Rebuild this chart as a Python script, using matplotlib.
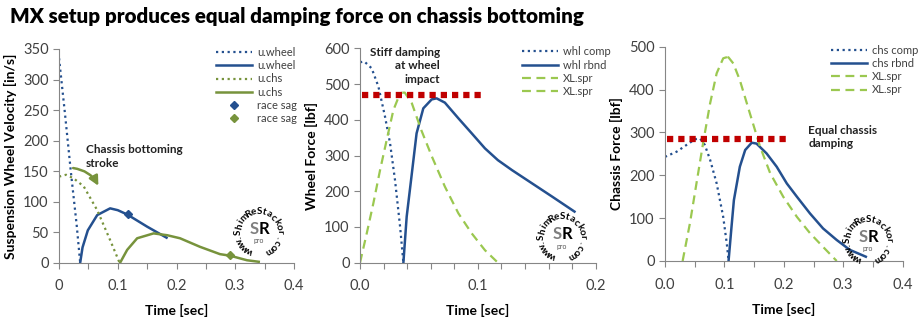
import numpy as np
import matplotlib
matplotlib.use("Agg")
import matplotlib.pyplot as plt

# =================== Data ===================
# Panel 1: suspension wheel velocity [in/s] vs time [sec]
t_uwheel_comp = [0.0, 0.01, 0.02, 0.03, 0.036]
v_uwheel_comp = [335, 245, 150, 62, 0]
t_uwheel_rbnd = [0.036, 0.040, 0.049, 0.065, 0.087, 0.100, 0.116, 0.150, 0.183]
v_uwheel_rbnd = [0, 25, 53, 78, 89, 86, 79, 59, 41]
t_uchs_comp = [0.0, 0.012, 0.025, 0.042, 0.065, 0.087, 0.103]
v_uchs_comp = [141, 144, 138, 125, 86, 37, 0]
t_uchs_rbnd = [0.104, 0.116, 0.133, 0.161, 0.184, 0.206, 0.240, 0.274, 0.291, 0.320, 0.340]
v_uchs_rbnd = [0, 21, 40, 48, 45, 40, 26, 14, 11.5, 4, 1.5]
sag_wheel = (0.117, 80)
sag_chs = (0.291, 12)

# Panel 2: wheel force [lbf]
t_whl_comp = [0.0, 0.0037, 0.0099, 0.0156, 0.0212, 0.0255, 0.0297, 0.034, 0.0368]
f_whl_comp = [561, 563, 544, 493, 409, 334, 231, 101, 0]
t_whl_rbnd = [0.0368, 0.0396, 0.0433, 0.048, 0.0537, 0.0608, 0.065, 0.072, 0.0835,
              0.0948, 0.106, 0.117, 0.129, 0.146, 0.163, 0.182]
f_whl_rbnd = [0, 129, 231, 362, 432, 457, 460, 448, 404, 362, 320, 287, 259, 222, 185, 143]
t_whl_spr_comp = [0.0, 0.0057, 0.0113, 0.017, 0.0226, 0.0283, 0.034, 0.036]
f_whl_spr_comp = [0, 82, 166, 259, 343, 427, 474, 476]
t_whl_spr_rbnd = [0.036, 0.038, 0.044, 0.052, 0.061, 0.072, 0.0835, 0.0948, 0.106, 0.117]
f_whl_spr_rbnd = [476, 476, 446, 371, 297, 213, 138, 82, 35, 0]
whl_damp_level = 468
whl_damp_span = (0.002, 0.106)

# Panel 3: chassis force [lbf]
t_chs_comp = [0.0, 0.0196, 0.0365, 0.0505, 0.059, 0.067, 0.076, 0.087, 0.098, 0.104, 0.107]
f_chs_comp = [243, 255, 271, 284, 286, 271, 236, 181, 103, 41, 2]
t_chs_rbnd = [0.107, 0.112, 0.116, 0.126, 0.135, 0.146, 0.154, 0.171, 0.188, 0.205,
              0.222, 0.244, 0.266, 0.289, 0.311, 0.338]
f_chs_rbnd = [0, 80, 142, 220, 259, 276, 274, 251, 220, 181, 150, 111, 76, 49, 26, 10]
t_chs_spr_comp = [0.0297, 0.042, 0.053, 0.065, 0.076, 0.087, 0.098, 0.105]
f_chs_spr_comp = [0, 88, 181, 282, 368, 438, 473, 476]
t_chs_spr_rbnd = [0.105, 0.107, 0.115, 0.126, 0.143, 0.160, 0.177, 0.199, 0.222, 0.244, 0.266, 0.289]
f_chs_spr_rbnd = [476, 475, 461, 422, 344, 267, 205, 150, 103, 65, 33, 0]
chs_damp_level = 285
chs_damp_span = (0.003, 0.210)

# =================== Style ===================
BLUE = '#24508F'
OLIVE = '#77933C'
LGREEN = '#9BC850'
RED = '#C00000'
GREY = '#868686'
TXT = '#404040'
W, H = 921, 326

plt.rcParams['font.family'] = ['Lato', 'DejaVu Sans']

fig = plt.figure(figsize=(9.21, 3.26), dpi=100)
fig.patch.set_facecolor('white')

dot = (0, (1, 1.6))
dash = (0, (4, 2.5))
red_dot = (0, (1, 0.8))


def style_axes(ax, xmax, xstep, xminor, ymax, ystep, xfmt):
    ax.set_xlim(0, xmax)
    ax.set_ylim(0, ymax)
    for s in ['top', 'right']:
        ax.spines[s].set_visible(False)
    for s in ['left', 'bottom']:
        ax.spines[s].set_color(GREY)
        ax.spines[s].set_linewidth(0.8)
    ax.set_xticks(np.arange(0, xmax + 1e-9, xstep))
    ax.set_xticklabels([xfmt.format(v) for v in np.arange(0, xmax + 1e-9, xstep)])
    ax.set_xticks(np.arange(0, xmax + 1e-9, xminor), minor=True)
    ax.set_yticks(np.arange(0, ymax + 1e-9, ystep))
    ax.tick_params(axis='both', which='both', color=GREY, direction='out',
                   labelsize=10.5, labelcolor=TXT, length=4, width=0.8)
    ax.tick_params(axis='x', which='major', pad=8)
    ax.set_xlabel('Time [sec]', fontsize=10, fontweight='bold', labelpad=8)


def watermark(cx, cy, r=20.5):
    # circular "www.ShimReStackor.com" around "SR pro", pixel coords from top-left
    txt = 'www.ShimReStackor.com'
    angs = np.linspace(240, -60, len(txt))
    for ch, a in zip(txt, angs):
        x = cx + r * np.cos(np.radians(a))
        y = cy - r * np.sin(np.radians(a))
        fig.text(x / W, 1 - y / H, ch, fontsize=7, fontweight='bold',
                 rotation=a - 90, ha='center', va='center', color='black')
    fig.text((cx - 5) / W, 1 - (cy - 3) / H, 'S', fontsize=12, fontweight='bold',
             ha='center', va='center', color='#7f7f7f')
    fig.text((cx + 5) / W, 1 - (cy - 3) / H, 'R', fontsize=12, fontweight='bold',
             ha='center', va='center', color='black')
    fig.text(cx / W, 1 - (cy + 9) / H, 'pro', fontsize=5, ha='center', va='center',
             color='#555555')


leg_kw = dict(loc='upper left', frameon=False, fontsize=8, handlelength=3.2,
              handletextpad=0.45, labelspacing=0.2, borderaxespad=0, labelcolor=TXT)
note_kw = dict(fontsize=8.5, fontweight='bold', va='center', linespacing=1.25,
               color='#222222')

# =================== Panel 1 ===================
ax1 = fig.add_axes([0.0641, 0.1942, 0.2551, 0.6555])
ax1.plot(t_uwheel_comp, v_uwheel_comp, color=BLUE, lw=1.6, ls=dot, label='u.wheel')
ax1.plot(t_uwheel_rbnd, v_uwheel_rbnd, color=BLUE, lw=1.8, label='u.wheel')
ax1.plot(t_uchs_comp, v_uchs_comp, color=OLIVE, lw=1.6, ls=dot, label='u.chs')
ax1.plot(t_uchs_rbnd, v_uchs_rbnd, color=OLIVE, lw=1.8, label='u.chs')
ax1.plot(*sag_wheel, marker='D', ms=4, color=BLUE, ls='none', label='race sag')
ax1.plot(*sag_chs, marker='D', ms=4, color=OLIVE, ls='none', label='race sag')
style_axes(ax1, 0.4, 0.1, 0.05, 350, 50, '{:g}')
ax1.set_ylabel('Suspension Wheel Velocity [in/s]', fontsize=10, fontweight='bold')
ax1.legend(bbox_to_anchor=(0.651, 1.03), **leg_kw)
ax1.annotate('', xy=(0.067, 126), xytext=(0.024, 155),
             arrowprops=dict(arrowstyle='-|>', color=OLIVE, lw=1.8, shrinkA=0, shrinkB=0,
                             connectionstyle='arc3,rad=-0.25', mutation_scale=14))
ax1.text(0.046, 174, 'Chassis bottoming\nstroke', ha='left', **note_kw)

# =================== Panel 2 ===================
ax2 = fig.add_axes([0.3909, 0.1942, 0.2559, 0.6576])
ax2.plot(t_whl_comp, f_whl_comp, color=BLUE, lw=1.6, ls=dot, label='whl comp')
ax2.plot(t_whl_rbnd, f_whl_rbnd, color=BLUE, lw=1.8, label='whl rbnd')
ax2.plot(t_whl_spr_comp, f_whl_spr_comp, color=LGREEN, lw=1.6, ls=dash, label='XL.spr')
ax2.plot(t_whl_spr_rbnd, f_whl_spr_rbnd, color=LGREEN, lw=1.6, ls=dash, label='XL.spr')
ax2.plot(whl_damp_span, [whl_damp_level] * 2, color=RED, lw=4.5, ls=red_dot,
         solid_capstyle='butt', dash_capstyle='butt')
style_axes(ax2, 0.2, 0.1, 0.02, 600, 100, '{:.1f}')
ax2.set_ylabel('Wheel Force [lbf]', fontsize=10, fontweight='bold')
ax2.legend(bbox_to_anchor=(0.669, 1.03), **leg_kw)
ax2.text(0.068, 551, 'Stiff damping\nat wheel\nimpact', ha='right',
         multialignment='right', **note_kw)

# =================== Panel 3 ===================
ax3 = fig.add_axes([0.7220, 0.1994, 0.2581, 0.6573])
ax3.plot(t_chs_comp, f_chs_comp, color=BLUE, lw=1.6, ls=dot, label='chs comp')
ax3.plot(t_chs_rbnd, f_chs_rbnd, color=BLUE, lw=1.8, label='chs rbnd')
ax3.plot(t_chs_spr_comp, f_chs_spr_comp, color=LGREEN, lw=1.6, ls=dash, label='XL.spr')
ax3.plot(t_chs_spr_rbnd, f_chs_spr_rbnd, color=LGREEN, lw=1.6, ls=dash, label='XL.spr')
ax3.plot(chs_damp_span, [chs_damp_level] * 2, color=RED, lw=4.5, ls=red_dot,
         solid_capstyle='butt', dash_capstyle='butt')
style_axes(ax3, 0.4, 0.1, 0.05, 500, 100, '{:.1f}')
ax3.set_ylabel('Chassis Force [lbf]', fontsize=10, fontweight='bold')
ax3.legend(bbox_to_anchor=(0.681, 1.03), **leg_kw)
ax3.text(0.241, 290, 'Equal chassis\ndamping', ha='left', **note_kw)

# watermarks
watermark(259, 232)
watermark(562, 237)
watermark(868, 240)

fig.text(10 / W, 1 - 16 / H, 'MX setup produces equal damping force on chassis bottoming',
         fontsize=14.8, fontweight='heavy', ha='left', va='center')

fig.savefig('out.png', dpi=100)
